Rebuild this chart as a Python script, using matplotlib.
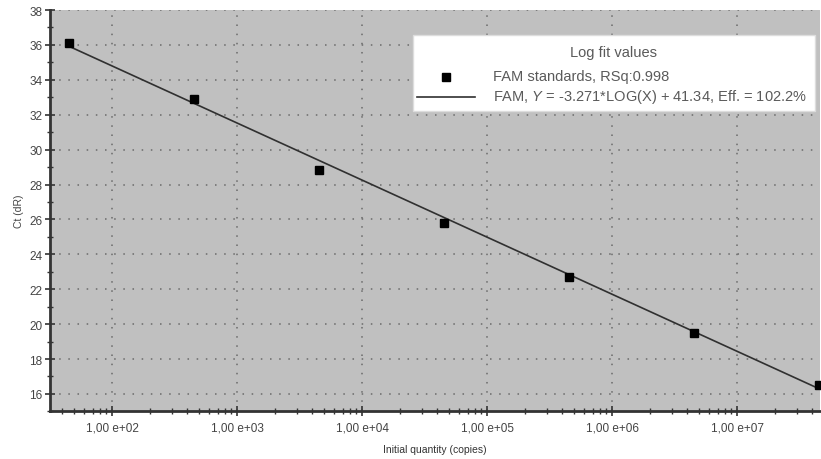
import matplotlib
matplotlib.use("Agg")
import matplotlib.pyplot as plt
import numpy as np
from matplotlib.ticker import FixedLocator, FuncFormatter, LogLocator, MultipleLocator
from matplotlib.lines import Line2D
from matplotlib.patches import Rectangle

plt.rcParams['font.family'] = ['Liberation Sans', 'DejaVu Sans']
plt.rcParams['mathtext.fontset'] = 'custom'
plt.rcParams['mathtext.it'] = 'Liberation Sans:italic'
plt.rcParams['mathtext.rm'] = 'Liberation Sans'

quantities = [45, 450, 4500, 45000, 450000, 4.5e6, 4.5e7]
ct_values = [36.1, 32.9, 28.85, 25.8, 22.7, 19.5, 16.5]
slope = -3.271
intercept = 41.34
legend_title = "Log fit values"
series_label = "FAM standards, RSq:0.998"
fit_label = "FAM, $\\mathit{Y}$ = -3.271*LOG(X) + 41.34, Eff. = 102.2%"
x_ticks = [1e2, 1e3, 1e4, 1e5, 1e6, 1e7]
x_tick_labels = ["1,00 e+02", "1,00 e+03", "1,00 e+04", "1,00 e+05", "1,00 e+06", "1,00 e+07"]

W, H = 821, 460
fig = plt.figure(figsize=(W / 100, H / 100), dpi=100)
ax = fig.add_axes([0.0609, 0.1035, 0.938, 0.8725])
ax.set_facecolor('#c0c0c0')

ax.set_xscale('log')
ax.set_xlim(10**1.504, 10**7.664)
ax.set_ylim(15, 38)

xf = np.array([quantities[0], quantities[-1]])
yf = slope * np.log10(xf) + intercept
ax.plot(xf, yf, color='#303030', lw=1.2, zorder=3)
ax.plot(quantities, ct_values, 's', color='black', ms=6, zorder=4, clip_on=False)

ax.xaxis.set_major_locator(FixedLocator(x_ticks))
ax.set_xticklabels(x_tick_labels)
ax.xaxis.set_minor_locator(LogLocator(base=10, subs=np.arange(2, 10)))
ax.xaxis.set_minor_formatter(FuncFormatter(lambda v, p: ""))
ax.yaxis.set_major_locator(MultipleLocator(2))
ax.yaxis.set_minor_locator(MultipleLocator(1))

ax.grid(True, which='major', color='#6a6a6a', linestyle=(0, (1, 5)), lw=1.1)
for s in ['top', 'right']:
    ax.spines[s].set_visible(False)
for s in ['left', 'bottom']:
    ax.spines[s].set_color('#333333')
    ax.spines[s].set_linewidth(2)

ax.tick_params(which='major', direction='inout', length=7, width=1.2, color='#333333',
               labelsize=8.5, labelcolor='#444444', pad=2)
ax.tick_params(axis='x', which='major', pad=4)
ax.tick_params(which='minor', direction='inout', length=5, width=1.0, color='#333333')

ax.set_xlabel("Initial quantity (copies)", fontsize=7.5, color='#333333', labelpad=7)
ax.set_ylabel("Ct (dR)", fontsize=7.5, color='#444444', labelpad=4)

# manual legend box (figure pixel coords)
def fx(px):
    return px / W

def fy(py):
    return 1 - py / H

box = Rectangle((fx(413), fy(112)), fx(815) - fx(413), fy(36) - fy(112),
                transform=fig.transFigure, facecolor='white', edgecolor='#dddddd',
                lw=1, zorder=5)
fig.add_artist(box)
tc = '#5a5a5a'
fig.text(fx(613), fy(53), legend_title, ha='center', va='center', fontsize=10.5,
         color=tc, zorder=6)
fig.add_artist(Line2D([fx(446)], [fy(78)], marker='s', color='black', ms=6,
                      ls='none', transform=fig.transFigure, zorder=6))
fig.text(fx(493), fy(77), series_label, ha='left', va='center', fontsize=10.5,
         color=tc, zorder=6)
fig.add_artist(Line2D([fx(417), fx(475)], [fy(98), fy(98)], color='#303030', lw=1.2,
                      transform=fig.transFigure, zorder=6))
fig.text(fx(493), fy(97), fit_label, ha='left', va='center', fontsize=10.5,
         color=tc, zorder=6)

fig.savefig("out.png", dpi=100)
